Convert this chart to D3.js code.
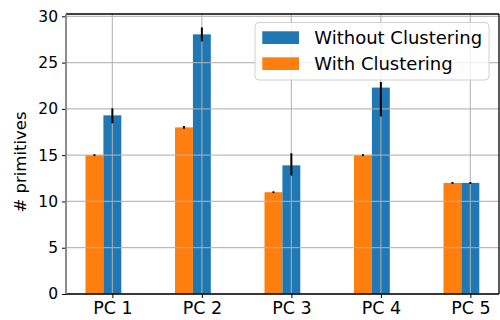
<!DOCTYPE html>
<html>
<head>
<meta charset="utf-8">
<script src="https://cdn.jsdelivr.net/npm/d3@7/dist/d3.min.js"></script>
<style>
  html, body { margin: 0; padding: 0; background: #fff; }
  svg { display: block; font-family: "DejaVu Sans", sans-serif; }
</style>
</head>
<body>
<svg id="chart" width="500" height="320"></svg>
<script>
// Number of primitives per point cloud, with and without clustering
const categories = ["PC 1", "PC 2", "PC 3", "PC 4", "PC 5"];
const withoutClustering = [19.3, 28.05, 13.9, 22.3, 12.0];
const withoutErrLow = [0.85, 0.75, 1.1, 3.1, 0.1];
const withoutErrHigh = [0.75, 0.75, 1.3, 0.6, 0.1];
const withClustering = [15.0, 18.0, 11.0, 15.0, 12.0];
const withErrLow = [0.1, 0.15, 0.1, 0.1, 0.1];
const withErrHigh = [0.1, 0.15, 0.1, 0.1, 0.1];
const yTicks = [0, 5, 10, 15, 20, 25, 30];
const seriesNames = ["Without Clustering", "With Clustering"];
const colors = { without: "#1f77b4", with: "#ff7f0e" };

const barWidth = 0.2;
const plot = { left: 66, right: 499, top: 14, bottom: 294 };

const svg = d3.select("#chart");

const x = d3.scaleLinear().domain([-0.518, 4.32]).range([plot.left, plot.right]);
const y = d3.scaleLinear().domain([0, 30.25]).range([plot.bottom, plot.top]);

// Bar centres: "without" on the tick, "with" one bar width to the left
const centreWith = i => i - barWidth;
const centreWithout = i => i;

const bars = svg.append("g");
categories.forEach((c, i) => {
  bars.append("rect")
    .attr("x", x(centreWith(i) - barWidth / 2))
    .attr("width", x(barWidth) - x(0))
    .attr("y", y(withClustering[i]))
    .attr("height", y(0) - y(withClustering[i]))
    .attr("fill", colors.with);
  bars.append("rect")
    .attr("x", x(centreWithout(i) - barWidth / 2))
    .attr("width", x(barWidth) - x(0))
    .attr("y", y(withoutClustering[i]))
    .attr("height", y(0) - y(withoutClustering[i]))
    .attr("fill", colors.without);
});

// Grid on top of the bars
const grid = svg.append("g").attr("stroke", "#b0b0b0").attr("stroke-opacity", 0.85).attr("stroke-width", 1.2);
yTicks.forEach(t => {
  grid.append("line").attr("x1", plot.left).attr("x2", plot.right)
    .attr("y1", y(t)).attr("y2", y(t));
});
categories.forEach((c, i) => {
  grid.append("line").attr("x1", x(i)).attr("x2", x(i))
    .attr("y1", plot.top).attr("y2", plot.bottom);
});

// Error bars
const err = svg.append("g").attr("stroke", "#000").attr("stroke-width", 2);
categories.forEach((c, i) => {
  const cw = centreWith(i), cwo = centreWithout(i);
  err.append("line").attr("x1", x(cw)).attr("x2", x(cw))
    .attr("y1", y(withClustering[i] - withErrLow[i]))
    .attr("y2", y(withClustering[i] + withErrHigh[i]));
  err.append("line").attr("x1", x(cwo)).attr("x2", x(cwo))
    .attr("y1", y(withoutClustering[i] - withoutErrLow[i]))
    .attr("y2", y(withoutClustering[i] + withoutErrHigh[i]));
});

// Axes
const xAxis = d3.axisBottom(x)
  .tickValues(categories.map((c, i) => i))
  .tickFormat((d, i) => categories[i])
  .tickSize(4).tickPadding(4);
const gx = svg.append("g").attr("transform", `translate(0,${plot.bottom})`).call(xAxis);
gx.select(".domain").remove();
gx.selectAll("text").attr("font-size", "17.5px").attr("fill", "#000")
  .attr("font-family", "DejaVu Sans");

const yAxis = d3.axisLeft(y).tickValues(yTicks).tickSize(4).tickPadding(4);
const gy = svg.append("g").attr("transform", `translate(${plot.left},0)`).call(yAxis);
gy.select(".domain").remove();
gy.selectAll("text").attr("font-size", "15.5px").attr("fill", "#000")
  .attr("font-family", "DejaVu Sans");

// Frame
const frame = svg.append("g").attr("fill", "none");
frame.append("line").attr("x1", plot.left).attr("x2", plot.right)
  .attr("y1", plot.top).attr("y2", plot.top).attr("stroke", "#000").attr("stroke-width", 1.3);
frame.append("line").attr("x1", plot.left).attr("x2", plot.right)
  .attr("y1", plot.bottom).attr("y2", plot.bottom).attr("stroke", "#000").attr("stroke-width", 1.3);
frame.append("line").attr("x1", plot.right).attr("x2", plot.right)
  .attr("y1", plot.top).attr("y2", plot.bottom).attr("stroke", "#000").attr("stroke-width", 1.3);
frame.append("line").attr("x1", plot.left).attr("x2", plot.left)
  .attr("y1", plot.top).attr("y2", plot.bottom).attr("stroke", "#808080").attr("stroke-width", 1.8);

// Y label
svg.append("text")
  .attr("transform", `translate(20,${(plot.top + plot.bottom) / 2 + 8}) rotate(-90)`)
  .attr("text-anchor", "middle")
  .attr("dy", "0.35em")
  .attr("font-size", "16.5px")
  .attr("fill", "#000")
  .text("# primitives");

// Legend
const legend = svg.append("g");
legend.append("rect")
  .attr("x", 255).attr("y", 22.5).attr("width", 234).attr("height", 57.5)
  .attr("rx", 4).attr("fill", "#fff").attr("fill-opacity", 0.8)
  .attr("stroke", "#d0d0d0").attr("stroke-width", 1);
[colors.without, colors.with].forEach((col, k) => {
  legend.append("rect")
    .attr("x", 262.3).attr("y", 31.3 + k * 26).attr("width", 36.7).attr("height", 12.7)
    .attr("fill", col);
  legend.append("text")
    .attr("x", 314.3).attr("y", 44 + k * 26)
    .attr("font-size", "18px").attr("fill", "#000")
    .text(seriesNames[k]);
});
</script>
</body>
</html>
